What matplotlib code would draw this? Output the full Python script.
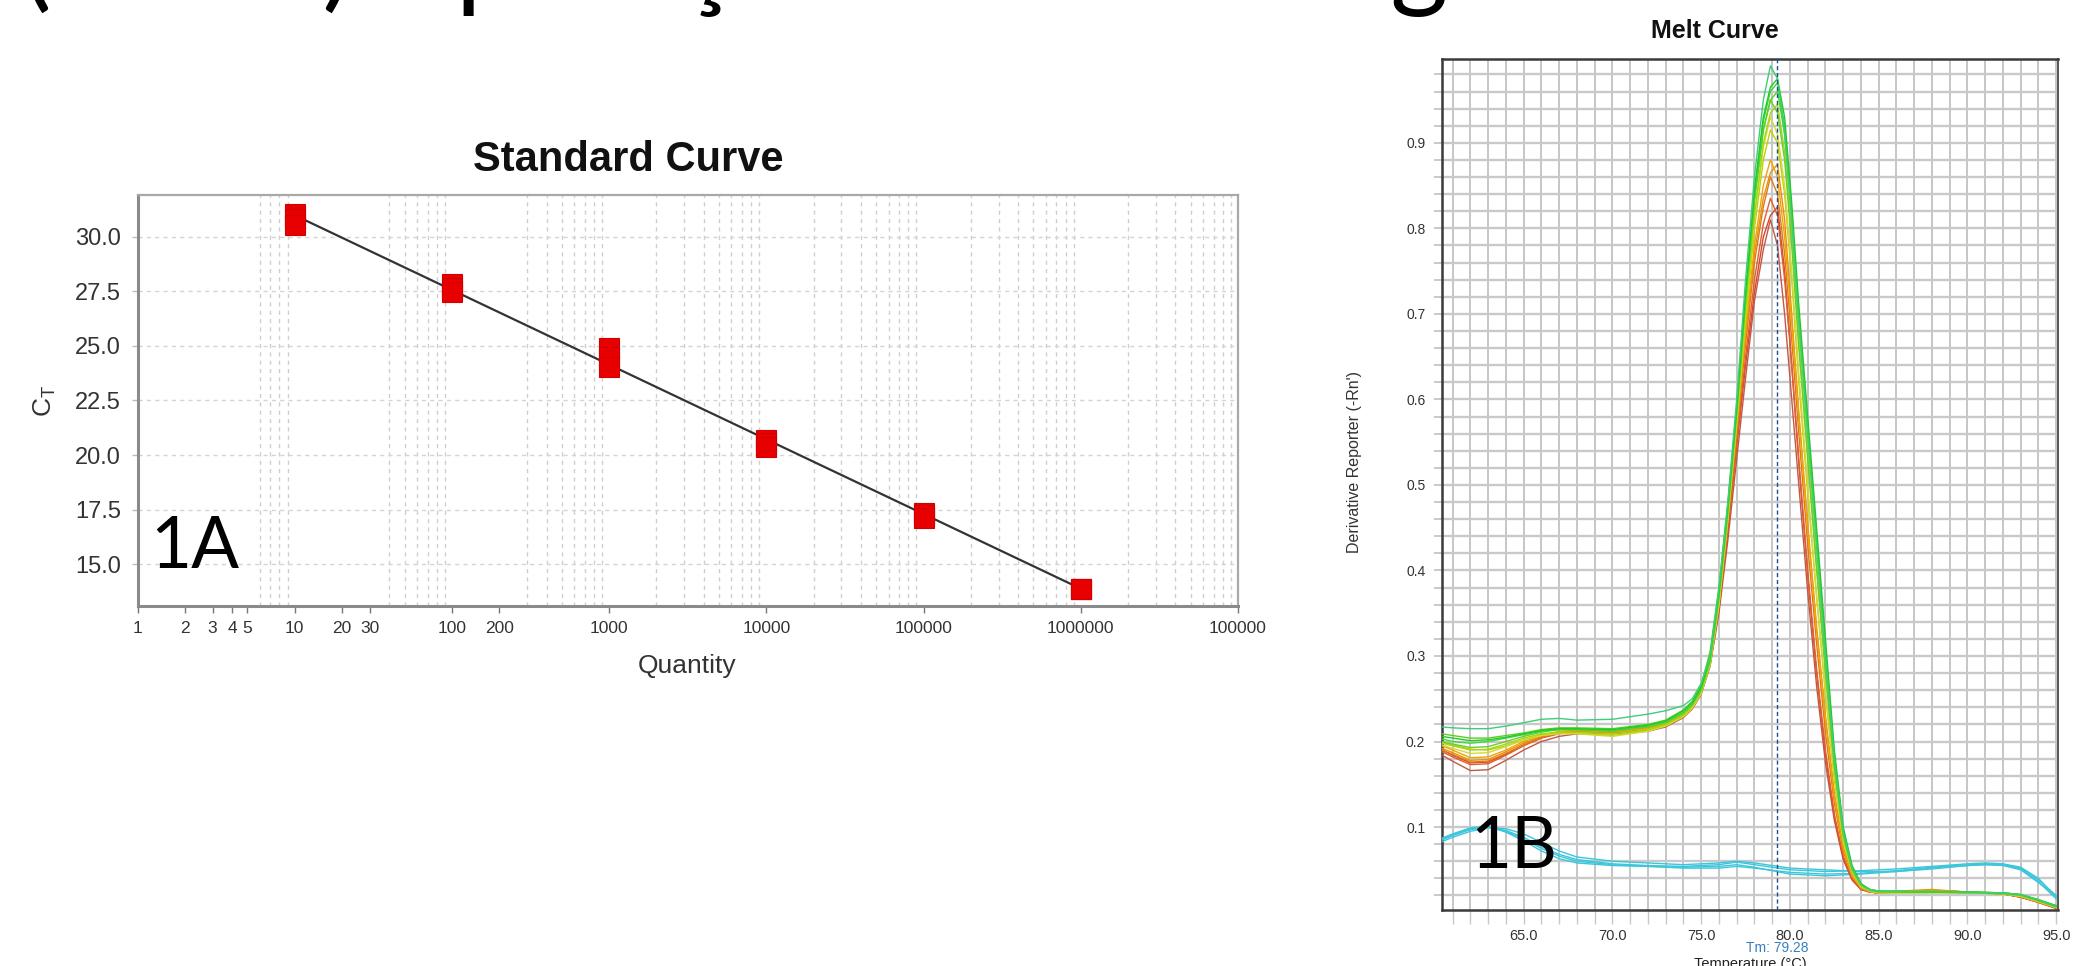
import matplotlib
matplotlib.use('Agg')
import matplotlib.pyplot as plt
import numpy as np
from matplotlib import font_manager
from matplotlib.ticker import FixedLocator, MultipleLocator, FuncFormatter, NullFormatter

W, H = 2091, 966

# ---------------- Standard curve data ----------------
quantity = [10, 100, 1000, 10000, 100000, 1000000]
ct_rep1 = [31.04, 27.85, 24.90, 20.71, 17.37, 13.90]
ct_rep2 = [30.78, 27.66, 24.47, 20.54, 17.25, 13.90]
ct_rep3 = [30.53, 27.47, 24.03, 20.37, 17.12, 13.90]
ct_ticks = [15.0, 17.5, 20.0, 22.5, 25.0, 27.5, 30.0]
q_tick_pos = [1, 2, 3, 4, 5, 10, 20, 30, 100, 200, 1000, 10000, 100000, 1000000, 10000000]
q_tick_labels = ['1', '2', '3', '4', '5', '10', '20', '30', '100', '200', '1000',
                 '10000', '100000', '1000000', '100000']

# ---------------- Melt curve data ----------------
temp = [60.4, 61, 62, 63, 64, 65, 66, 67, 68, 70, 72, 73, 74, 74.5, 75, 75.5, 76, 76.5,
        77, 77.5, 78, 78.5, 78.9, 79.3, 79.7, 80.1, 80.5, 81, 81.5, 82, 82.5, 83, 83.5,
        84, 84.5, 85, 88, 90, 92, 93, 94, 95]
g1 = [0.217, 0.216, 0.215, 0.215, 0.218, 0.222, 0.226, 0.227, 0.225, 0.226, 0.232, 0.236,
      0.242, 0.250, 0.268, 0.300, 0.380, 0.480, 0.600, 0.740, 0.860, 0.950, 0.990, 0.975,
      0.910, 0.810, 0.690, 0.560, 0.430, 0.300, 0.180, 0.095, 0.052, 0.033, 0.027, 0.025,
      0.024, 0.024, 0.023, 0.021, 0.015, 0.007]
g2 = [0.206, 0.204, 0.201, 0.202, 0.205, 0.209, 0.213, 0.215, 0.215, 0.214, 0.219, 0.224,
      0.236, 0.246, 0.264, 0.300, 0.375, 0.475, 0.590, 0.725, 0.845, 0.930, 0.965, 0.975,
      0.930, 0.830, 0.710, 0.580, 0.450, 0.320, 0.190, 0.100, 0.055, 0.034, 0.027, 0.025,
      0.024, 0.024, 0.023, 0.021, 0.015, 0.008]
g3 = [0.203, 0.200, 0.198, 0.200, 0.204, 0.208, 0.212, 0.214, 0.214, 0.213, 0.218, 0.223,
      0.234, 0.244, 0.262, 0.295, 0.370, 0.470, 0.585, 0.720, 0.840, 0.925, 0.960, 0.970,
      0.920, 0.820, 0.700, 0.570, 0.440, 0.310, 0.185, 0.098, 0.053, 0.033, 0.027, 0.025,
      0.024, 0.024, 0.023, 0.021, 0.014, 0.007]
g4 = [0.209, 0.207, 0.204, 0.204, 0.207, 0.210, 0.214, 0.216, 0.216, 0.215, 0.220, 0.225,
      0.237, 0.247, 0.266, 0.305, 0.380, 0.478, 0.590, 0.720, 0.835, 0.915, 0.950, 0.960,
      0.910, 0.810, 0.690, 0.560, 0.430, 0.300, 0.180, 0.095, 0.052, 0.033, 0.027, 0.025,
      0.025, 0.024, 0.023, 0.021, 0.015, 0.008]
g5 = [0.200, 0.197, 0.193, 0.194, 0.200, 0.206, 0.211, 0.214, 0.214, 0.212, 0.217, 0.222,
      0.233, 0.243, 0.260, 0.295, 0.370, 0.470, 0.585, 0.715, 0.830, 0.915, 0.950, 0.935,
      0.880, 0.780, 0.660, 0.530, 0.400, 0.280, 0.170, 0.090, 0.050, 0.032, 0.026, 0.024,
      0.024, 0.023, 0.022, 0.020, 0.014, 0.007]
y1 = [0.198, 0.195, 0.190, 0.191, 0.197, 0.204, 0.209, 0.211, 0.211, 0.209, 0.214, 0.220,
      0.231, 0.241, 0.258, 0.290, 0.365, 0.465, 0.580, 0.705, 0.815, 0.900, 0.935, 0.945,
      0.890, 0.790, 0.670, 0.540, 0.410, 0.285, 0.170, 0.090, 0.050, 0.032, 0.026, 0.024,
      0.024, 0.023, 0.022, 0.020, 0.014, 0.006]
y2 = [0.196, 0.192, 0.186, 0.187, 0.194, 0.202, 0.207, 0.209, 0.209, 0.206, 0.212, 0.218,
      0.229, 0.239, 0.256, 0.290, 0.360, 0.460, 0.575, 0.700, 0.810, 0.895, 0.930, 0.910,
      0.850, 0.750, 0.630, 0.500, 0.370, 0.260, 0.160, 0.085, 0.048, 0.031, 0.025, 0.023,
      0.023, 0.023, 0.022, 0.019, 0.013, 0.006]
y3 = [0.199, 0.196, 0.191, 0.190, 0.195, 0.202, 0.208, 0.210, 0.210, 0.207, 0.213, 0.219,
      0.230, 0.240, 0.257, 0.290, 0.360, 0.458, 0.570, 0.690, 0.800, 0.880, 0.915, 0.900,
      0.840, 0.740, 0.620, 0.490, 0.370, 0.255, 0.155, 0.083, 0.047, 0.030, 0.025, 0.023,
      0.023, 0.023, 0.022, 0.019, 0.013, 0.006]
o1 = [0.195, 0.190, 0.181, 0.182, 0.190, 0.200, 0.207, 0.212, 0.213, 0.211, 0.215, 0.220,
      0.232, 0.242, 0.260, 0.295, 0.365, 0.462, 0.570, 0.680, 0.780, 0.850, 0.880, 0.860,
      0.790, 0.690, 0.580, 0.450, 0.330, 0.225, 0.135, 0.075, 0.043, 0.029, 0.025, 0.024,
      0.026, 0.024, 0.022, 0.019, 0.013, 0.006]
o2 = [0.192, 0.187, 0.178, 0.179, 0.188, 0.198, 0.206, 0.211, 0.213, 0.212, 0.216, 0.221,
      0.233, 0.243, 0.262, 0.300, 0.370, 0.465, 0.570, 0.675, 0.770, 0.835, 0.865, 0.875,
      0.810, 0.700, 0.585, 0.455, 0.335, 0.230, 0.140, 0.077, 0.044, 0.029, 0.025, 0.024,
      0.027, 0.024, 0.022, 0.019, 0.012, 0.006]
o3 = [0.190, 0.185, 0.176, 0.177, 0.186, 0.196, 0.205, 0.210, 0.212, 0.211, 0.214, 0.219,
      0.230, 0.240, 0.258, 0.292, 0.360, 0.455, 0.560, 0.665, 0.760, 0.825, 0.860, 0.840,
      0.770, 0.670, 0.560, 0.430, 0.315, 0.210, 0.128, 0.072, 0.042, 0.028, 0.024, 0.023,
      0.026, 0.024, 0.022, 0.018, 0.012, 0.005]
r1 = [0.188, 0.182, 0.173, 0.174, 0.184, 0.195, 0.204, 0.209, 0.211, 0.210, 0.213, 0.218,
      0.229, 0.239, 0.257, 0.290, 0.355, 0.448, 0.550, 0.650, 0.740, 0.805, 0.835, 0.815,
      0.740, 0.640, 0.530, 0.400, 0.285, 0.190, 0.115, 0.066, 0.040, 0.028, 0.024, 0.023,
      0.026, 0.024, 0.022, 0.018, 0.012, 0.005]
r2 = [0.190, 0.184, 0.175, 0.176, 0.185, 0.196, 0.205, 0.210, 0.212, 0.211, 0.214, 0.219,
      0.230, 0.240, 0.258, 0.292, 0.355, 0.445, 0.545, 0.640, 0.725, 0.790, 0.815, 0.825,
      0.750, 0.640, 0.525, 0.395, 0.280, 0.185, 0.112, 0.064, 0.039, 0.027, 0.024, 0.023,
      0.026, 0.024, 0.022, 0.018, 0.012, 0.005]
r3 = [0.184, 0.177, 0.166, 0.167, 0.178, 0.190, 0.200, 0.206, 0.209, 0.209, 0.212, 0.217,
      0.228, 0.238, 0.255, 0.288, 0.350, 0.435, 0.530, 0.625, 0.715, 0.775, 0.810, 0.780,
      0.700, 0.600, 0.500, 0.375, 0.265, 0.175, 0.108, 0.062, 0.038, 0.027, 0.024, 0.023,
      0.025, 0.024, 0.022, 0.018, 0.012, 0.005]

temp_ntc = [60.4, 61, 62, 63, 64, 65, 66, 67, 68, 70, 72, 74, 76, 77, 78, 80, 82, 84, 86,
            88, 90, 91, 92, 93, 94, 95]
c1 = [0.085, 0.090, 0.097, 0.100, 0.096, 0.088, 0.077, 0.068, 0.062, 0.057, 0.055, 0.054,
      0.056, 0.059, 0.056, 0.050, 0.048, 0.049, 0.051, 0.054, 0.057, 0.058, 0.057, 0.053,
      0.040, 0.018]
c2 = [0.087, 0.092, 0.099, 0.101, 0.094, 0.084, 0.072, 0.063, 0.058, 0.055, 0.054, 0.052,
      0.052, 0.054, 0.052, 0.047, 0.045, 0.046, 0.049, 0.053, 0.056, 0.057, 0.056, 0.052,
      0.038, 0.020]
c3 = [0.083, 0.088, 0.095, 0.099, 0.098, 0.092, 0.082, 0.072, 0.065, 0.060, 0.058, 0.056,
      0.058, 0.060, 0.058, 0.052, 0.050, 0.048, 0.048, 0.051, 0.055, 0.056, 0.056, 0.051,
      0.036, 0.016]
c4 = [0.086, 0.091, 0.098, 0.100, 0.095, 0.086, 0.075, 0.066, 0.060, 0.056, 0.054, 0.053,
      0.054, 0.056, 0.053, 0.045, 0.043, 0.045, 0.048, 0.052, 0.055, 0.056, 0.055, 0.050,
      0.035, 0.019]
tm_value = 79.28
melt_xticks = [65, 70, 75, 80, 85, 90, 95]
melt_yticks = [0.1, 0.2, 0.3, 0.4, 0.5, 0.6, 0.7, 0.8, 0.9]

# ---------------- fonts ----------------
avail = {f.name for f in font_manager.fontManager.ttflist}
SANS = 'Liberation Sans'
NARROW = 'Liberation Sans Narrow' if 'Liberation Sans Narrow' in avail else 'Liberation Sans'
SLIDE = 'Lato' if 'Lato' in avail else 'DejaVu Sans'
plt.rcParams['font.family'] = SANS

fig = plt.figure(figsize=(W / 100, H / 100), dpi=100)
fig.patch.set_facecolor('white')

def px(x0, y0, x1, y1):
    return [x0 / W, 1 - y1 / H, (x1 - x0) / W, (y1 - y0) / H]

# ================= Standard curve =================
ax1 = fig.add_axes(px(137.5, 195, 1238, 606))
ax1.set_xscale('log')
ax1.set_xlim(1, 1e7)
ax1.set_ylim(13.1, 31.9)

minor_pos = [k * 10 ** d for d in range(0, 7) for k in range(1, 10)] + [1e7]
ax1.xaxis.set_minor_locator(FixedLocator(minor_pos))
ax1.xaxis.set_minor_formatter(NullFormatter())
ax1.xaxis.set_major_locator(FixedLocator(q_tick_pos))
ax1.set_xticklabels(q_tick_labels)
ax1.set_yticks(ct_ticks)
ax1.set_yticklabels(['%.1f' % v for v in ct_ticks])

ax1.grid(False)
ax1.grid(True, which='minor', axis='x', color='#cfcfcf', lw=1.0, ls=(0, (3, 3)))
ax1.grid(True, which='major', axis='y', color='#d4d4d4', lw=1.0, ls=(0, (3, 3)))

ax1.tick_params(axis='x', which='major', length=5, width=1, color='#777777',
                labelsize=12.5, labelcolor='#333333', pad=6)
ax1.tick_params(axis='x', which='minor', length=0)
ax1.tick_params(axis='y', which='major', length=4, width=1, color='#bbbbbb',
                labelsize=17, labelcolor='#333333', pad=8)
for lab in ax1.get_xticklabels():
    lab.set_fontfamily(NARROW)

for s in ['left', 'bottom']:
    ax1.spines[s].set_color('#8a8a8a')
    ax1.spines[s].set_linewidth(2.2)
for s in ['top', 'right']:
    ax1.spines[s].set_color('#a8a8a8')
    ax1.spines[s].set_linewidth(1.6)

ct_mean = np.mean([ct_rep1, ct_rep2, ct_rep3], axis=0)
logq = np.log10(quantity)
slope, intercept = np.polyfit(logq, ct_mean, 1)
qline = np.array([quantity[0], quantity[-1]], dtype=float)
ax1.plot(qline, slope * np.log10(qline) + intercept, color='#333333', lw=1.6, zorder=3)
for rep in (ct_rep1, ct_rep2, ct_rep3):
    ax1.plot(quantity, rep, ls='none', marker='s', markersize=14,
             markerfacecolor='#e80000', markeredgecolor='#d00000', markeredgewidth=0.8,
             zorder=4)

fig.text(628 / W, 1 - 160 / H, 'Standard Curve', ha='center', va='center',
         fontsize=30, fontweight='bold', family=SANS, color='#111111')
fig.text(687 / W, 1 - 666 / H, 'Quantity', ha='center', va='center',
         fontsize=19, family=NARROW, color='#333333')
fig.text(45 / W, 1 - 401 / H, r'C$_{\mathregular{T}}$', ha='center', va='center',
         rotation=90, fontsize=19, color='#333333')
fig.text(150 / W, 1 - 568 / H, '1A', ha='left', va='baseline', fontsize=51,
         family=SLIDE, color='black')

# ================= Melt curve =================
ax2 = fig.add_axes(px(1442, 59, 2058, 910))
ax2.set_xlim(60.4, 95.1)
ax2.set_ylim(0.003, 0.998)
ax2.xaxis.set_major_locator(FixedLocator(melt_xticks))
ax2.xaxis.set_minor_locator(MultipleLocator(1))
ax2.yaxis.set_major_locator(FixedLocator(melt_yticks))
ax2.yaxis.set_minor_locator(MultipleLocator(0.02))
ax2.xaxis.set_major_formatter(FuncFormatter(lambda v, p: '%.1f' % v))
ax2.yaxis.set_major_formatter(FuncFormatter(lambda v, p: '%.1f' % v))

ax2.grid(True, which='both', axis='x', color='#c2c2c2', lw=1.3)
ax2.grid(True, which='both', axis='y', color='#c9c9c9', lw=1.7)
ax2.set_axisbelow(True)
ax2.tick_params(axis='x', which='both', length=10, width=1, color='#c8c8c8',
                labelsize=10.5, labelcolor='#333333', pad=4)
ax2.tick_params(axis='y', which='both', length=6, width=1.2, color='#c0c0c0',
                labelsize=10, labelcolor='#333333', pad=6)
for lab in ax2.get_xticklabels() + ax2.get_yticklabels():
    lab.set_fontfamily(NARROW)

for s in ['left', 'bottom', 'top']:
    ax2.spines[s].set_color('#3a3a3a')
    ax2.spines[s].set_linewidth(1.8)
ax2.spines['right'].set_color('#555555')
ax2.spines['right'].set_linewidth(1.4)

for vals in (c1, c2, c3, c4):
    ax2.plot(temp_ntc, vals, color='#3cc6dc', lw=1.0, zorder=3)

melt_series = [(r3, '#c05a46'), (r2, '#d4482a'), (r1, '#e25c30'), (o3, '#e07a18'),
               (o2, '#e98e10'), (o1, '#f0a400'), (y3, '#bcd200'), (y2, '#d6d838'),
               (y1, '#a2d814'), (g5, '#6ccc30'), (g4, '#52d222'), (g3, '#3ed83e'),
               (g2, '#26c826'), (g1, '#3ccf78')]
for vals, col in melt_series:
    ax2.plot(temp, vals, color=col, lw=1.0, zorder=4)

ax2.axvline(tm_value, color='#1f4e8c', lw=1.0, ls=(0, (3, 2)), zorder=5)

fig.text(1715 / W, 1 - 31 / H, 'Melt Curve', ha='center', va='center',
         fontsize=18, fontweight='bold', family=SANS, color='#111111')
fig.text(1355 / W, 1 - 462 / H, "Derivative Reporter (-Rn')", ha='center', va='center',
         rotation=90, fontsize=11.5, family=NARROW, color='#333333')
fig.text(1777 / W, 1 - 948 / H, 'Tm: %.2f' % tm_value, ha='center', va='center',
         fontsize=10, family=NARROW, color='#3a7fc0')
fig.text(1750 / W, 1 - 964 / H, 'Temperature (°C)', ha='center', va='center',
         fontsize=10.5, family=NARROW, color='#222222')
fig.text(1470 / W, 1 - 868 / H, '1B', ha='left', va='baseline', fontsize=51,
         family=SLIDE, color='black')

# ================= cropped slide heading =================
fig.text(22 / W, 1 + 3 / H, '(Teste) Aplicação da tecnologia', ha='left', va='baseline',
         fontsize=80, family=SLIDE, color='black')

fig.savefig('out.png', dpi=100, facecolor='white')
